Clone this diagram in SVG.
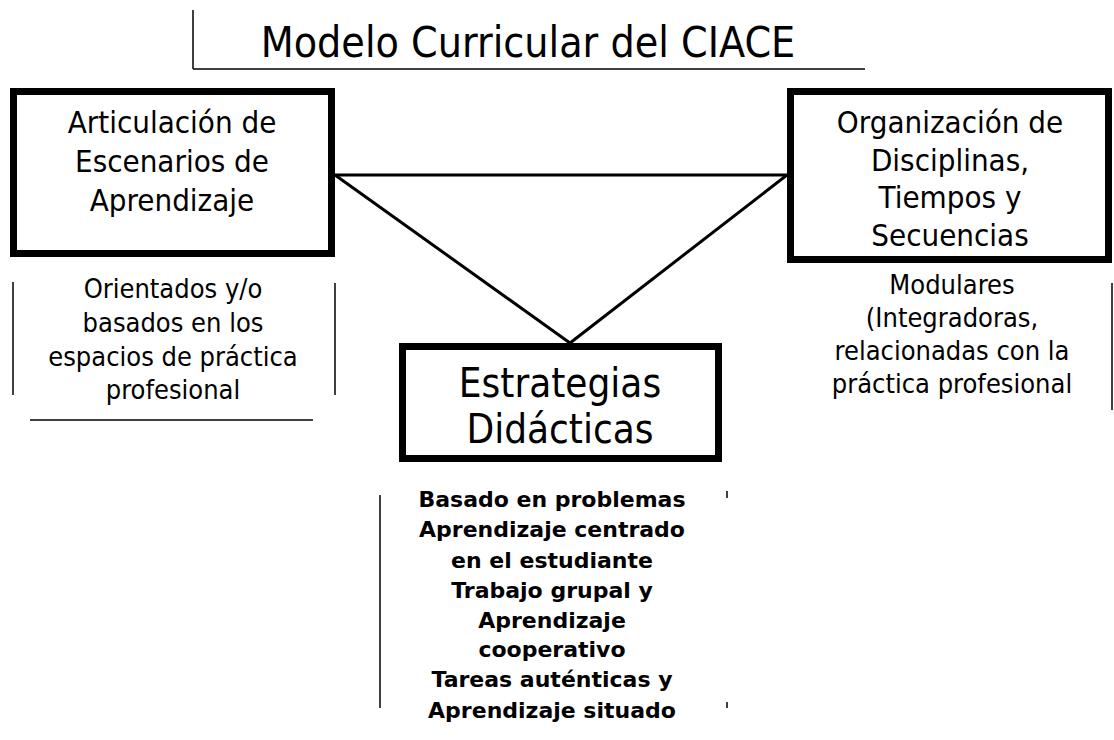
<svg xmlns="http://www.w3.org/2000/svg" width="1114" height="740" viewBox="0 0 1114 740">
<style>
.box{fill:#fff;stroke:#000;stroke-width:7}
.t{font-family:"DejaVu Sans","Verdana",sans-serif;fill:#000;text-anchor:middle}
.c{font-family:"DejaVu Sans Condensed","DejaVu Sans",sans-serif;font-stretch:condensed}
.big{font-size:31px}
.mid{font-size:27px}
.bold{font-size:22px;font-weight:bold}
.ln{stroke:#000;stroke-width:3;fill:none}
.br{stroke:#000;stroke-width:1.5;fill:none}
</style>
<rect width="1114" height="740" fill="#fff"/>
<g id="title">
<line x1="193" y1="10" x2="193" y2="69" class="br"/>
<line x1="193" y1="69" x2="865" y2="69" class="br"/>
<text x="528" y="57" class="t c" font-size="42.5">Modelo Curricular del CIACE</text>
</g>
<g id="connectors">
<line x1="335" y1="175" x2="787" y2="175" class="ln"/>
<line x1="335" y1="175" x2="570" y2="343" class="ln"/>
<line x1="787" y1="175" x2="570" y2="343" class="ln"/>
</g>
<g id="node-articulacion">
<rect x="13.5" y="91.5" width="318" height="162" class="box"/>
<text class="t c big" x="172"><tspan x="172" y="133">Articulación de</tspan><tspan x="172" y="172">Escenarios de</tspan><tspan x="172" y="211">Aprendizaje</tspan></text>
</g>
<g id="desc-articulacion">
<line x1="13" y1="282" x2="13" y2="395" class="br"/>
<line x1="335" y1="283" x2="335" y2="395" class="br"/>
<line x1="30" y1="420" x2="313" y2="420" class="br"/>
<text class="t c mid" x="173"><tspan x="173" y="298">Orientados y/o</tspan><tspan x="173" y="332">basados en los</tspan><tspan x="173" y="366">espacios de práctica</tspan><tspan x="173" y="399">profesional</tspan></text>
</g>
<g id="node-organizacion">
<rect x="790.5" y="91.5" width="318" height="168" class="box"/>
<text class="t c big" x="950"><tspan x="950" y="133">Organización de</tspan><tspan x="950" y="171">Disciplinas,</tspan><tspan x="950" y="208">Tiempos y</tspan><tspan x="950" y="246">Secuencias</tspan></text>
</g>
<g id="desc-organizacion">
<line x1="1112" y1="283" x2="1112" y2="410" class="br"/>
<text class="t c mid" x="952"><tspan x="952" y="294">Modulares</tspan><tspan x="952" y="327">(Integradoras,</tspan><tspan x="952" y="360">relacionadas con la</tspan><tspan x="952" y="393">práctica profesional</tspan></text>
</g>
<g id="node-estrategias">
<rect x="402.5" y="346.5" width="316" height="112" class="box"/>
<text class="t c" font-size="40" x="560"><tspan x="560" y="397">Estrategias</tspan><tspan x="560" y="443">Didácticas</tspan></text>
</g>
<g id="desc-estrategias">
<line x1="380" y1="495" x2="380" y2="708" class="br"/>
<line x1="727" y1="491" x2="727" y2="498" class="br"/>
<line x1="727" y1="702" x2="727" y2="708" class="br"/>
<text class="t bold" x="552"><tspan x="552" y="507">Basado en problemas</tspan><tspan x="552" y="537">Aprendizaje centrado</tspan><tspan x="552" y="568">en el estudiante</tspan><tspan x="552" y="598">Trabajo grupal y</tspan><tspan x="552" y="628">Aprendizaje</tspan><tspan x="552" y="657">cooperativo</tspan><tspan x="552" y="687">Tareas auténticas y</tspan><tspan x="552" y="718">Aprendizaje situado</tspan></text>
</g>
</svg>
